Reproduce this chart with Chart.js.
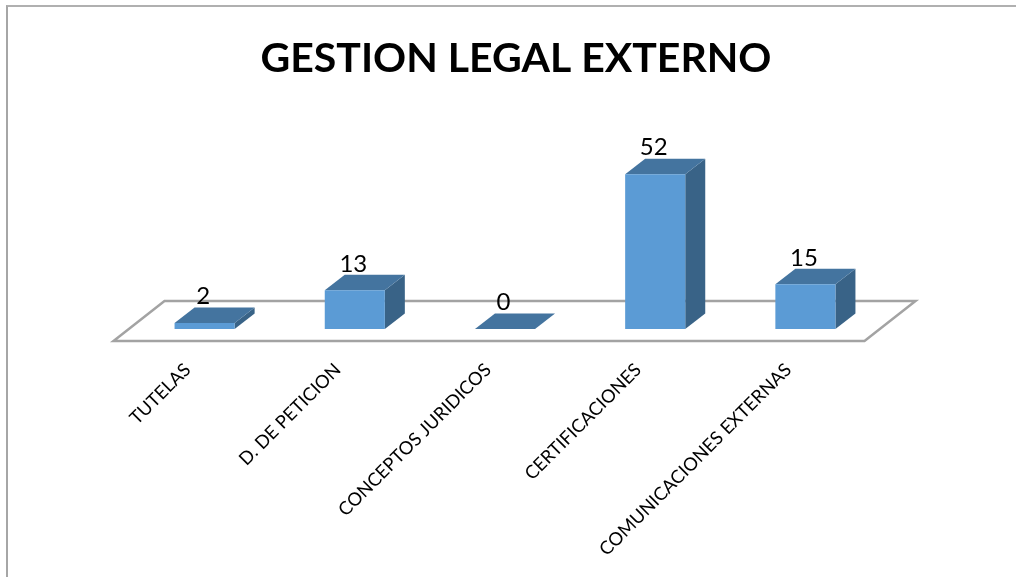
<!DOCTYPE html>
<html>
<head>
<meta charset="utf-8">
<script src="https://cdn.jsdelivr.net/npm/chart.js@4"></script>
<style>
html, body { margin: 0; padding: 0; background: #fff; overflow: hidden; }
#wrap { position: relative; width: 1016px; height: 577px; }
#frame { position: absolute; left: 6px; top: 5px; right: 0; bottom: 0; border-left: 2px solid #a6a6a6; border-top: 2px solid #b0b0b0; }
canvas { position: absolute; left: 0; top: 0; }
</style>
</head>
<body>
<div id="wrap">
  <div id="frame"></div>
  <canvas id="legalChart" width="1016" height="577"></canvas>
</div>
<script>
var chartTitle = 'GESTION LEGAL EXTERNO';
var categories = ['TUTELAS', 'D. DE PETICION', 'CONCEPTOS JURIDICOS', 'CERTIFICACIONES', 'COMUNICACIONES EXTERNAS'];
var values = [2, 13, 0, 52, 15];

var frontColor = '#5b9bd5';
var topColor = '#44749f';
var sideColor = '#396387';
var depthX = 20;
var depthY = 15.5;

function shape(ctx, points, color) {
    ctx.fillStyle = color;
    ctx.beginPath();
    points.forEach(function (p, i) {
        if (i === 0) ctx.moveTo(p[0], p[1]);
        else ctx.lineTo(p[0], p[1]);
    });
    ctx.closePath();
    ctx.fill();
}

// fake 3d: floor behind the bars, then top and side faces of each bar
var fake3d = {
    id: 'fake3d',
    afterLayout: function (chart) {
        chart.titleBlock.left += 11;
        chart.titleBlock.right += 11;
    },
    beforeDatasetsDraw: function (chart) {
        var ctx = chart.ctx, a = chart.chartArea;
        ctx.save();
        ctx.strokeStyle = '#a3a3a3';
        ctx.lineWidth = 2.5;
        ctx.beginPath();
        ctx.moveTo(a.left - 16, a.bottom + 12);
        ctx.lineTo(a.right - 16, a.bottom + 12);
        ctx.lineTo(a.right + 35, a.bottom - 28);
        ctx.lineTo(a.left + 35, a.bottom - 28);
        ctx.closePath();
        ctx.stroke();
        ctx.restore();

        chart.getDatasetMeta(0).data.forEach(function (bar) {
            var l = bar.x - bar.width / 2, r = bar.x + bar.width / 2;
            shape(ctx, [[r, bar.y], [r + depthX, bar.y - depthY], [r + depthX, bar.base - depthY], [r, bar.base]], sideColor);
            shape(ctx, [[l, bar.y], [l + depthX, bar.y - depthY], [r + depthX, bar.y - depthY], [r, bar.y]], topColor);
        });
    },
    afterDatasetsDraw: function (chart) {
        var ctx = chart.ctx;
        ctx.save();
        ctx.fillStyle = '#000';
        ctx.font = '24px Lato';
        ctx.textAlign = 'center';
        ctx.textBaseline = 'middle';
        chart.getDatasetMeta(0).data.forEach(function (bar, i) {
            ctx.fillText(values[i], bar.x - 1.5, bar.y - 26.5);
        });
        ctx.restore();
    }
};

window.onload = function () {
    var config = {
        type: 'bar',
        data: {
            labels: categories,
            datasets: [{
                data: values,
                backgroundColor: frontColor,
                borderWidth: 0,
                barPercentage: 0.4,
                categoryPercentage: 1
            }]
        },
        options: {
            responsive: false,
            animation: false,
            layout: { padding: { left: 129.5, right: 135.5, top: 0, bottom: 0 } },
            plugins: {
                legend: { display: false },
                tooltip: { enabled: false },
                title: {
                    display: true,
                    text: chartTitle,
                    color: '#000',
                    font: { family: 'Lato', size: 41, weight: 'bold', lineHeight: 1.2 },
                    padding: { top: 34, bottom: 67.2 }
                }
            },
            scales: {
                x: {
                    grid: { display: false },
                    border: { display: false },
                    afterFit: function (scale) { scale.height = 248; },
                    ticks: {
                        color: '#000',
                        font: { family: 'Lato', size: 18.3 },
                        autoSkip: false,
                        minRotation: 45,
                        maxRotation: 45,
                        labelOffset: -17,
                        padding: 22
                    }
                },
                y: {
                    display: false,
                    min: 0,
                    max: 60
                }
            }
        },
        plugins: [fake3d]
    };

    var ctx = document.getElementById('legalChart').getContext('2d');
    window.myBar = new Chart(ctx, config);
};
</script>
</body>
</html>
